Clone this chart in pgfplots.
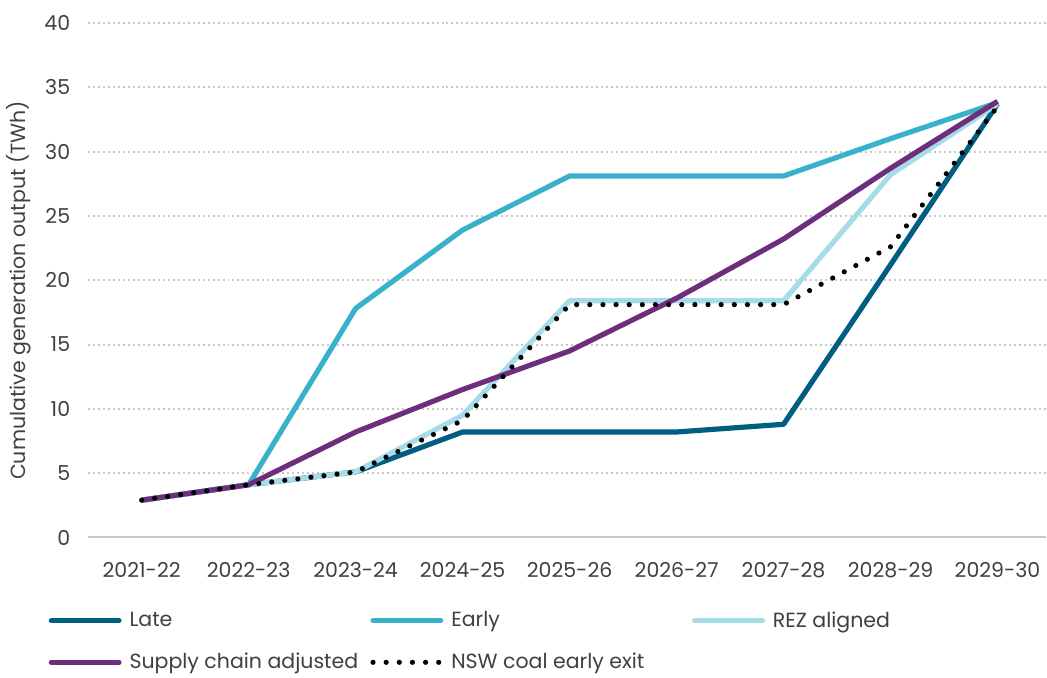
\documentclass[border=0pt]{standalone}
\usepackage{fontspec}
\setmainfont{Poppins}
\usepackage{pgfplots}
\pgfplotsset{compat=1.18}

\definecolor{late}{HTML}{005E82}
\definecolor{early}{HTML}{38B2CB}
\definecolor{rez}{HTML}{A5DCE7}
\definecolor{supply}{HTML}{6D2E7D}
\definecolor{txt}{HTML}{404040}
\definecolor{gridc}{HTML}{C8C8C8}

\newcommand{\lt}[1]{\hspace{4pt}\makebox[121pt][l]{#1}}

\begin{document}
\begin{tikzpicture}
\begin{axis}[
    name=ax,
    scale only axis,
    width=481pt, height=258.5pt,
    xmin=-0.5, xmax=8.45,
    ymin=0, ymax=40,
    xtick={0,...,8},
    xticklabels={2021-22,2022-23,2023-24,2024-25,2025-26,2026-27,2027-28,2028-29,2029-30},
    ytick={0,5,...,40},
    major tick length=0pt,
    axis x line*=bottom,
    axis y line*=left,
    x axis line style={gridc, line width=1pt, -},
    y axis line style={draw=none},
    ymajorgrids=true,
    grid style={gridc, line width=1pt, dash pattern=on 1pt off 1.5pt},
    font=\fontsize{10.3}{12}\selectfont\color{txt},
    /pgf/number format/assume math mode=true,
    xticklabel style={yshift=-9pt},
    yticklabel style={xshift=-5.5pt},
    ylabel={Cumulative generation output (TWh)},
    ylabel style={at={(axis description cs:-0.052,0.48)}, anchor=south},
    legend columns=3,
    legend cell align=left,
    legend style={draw=none, inner xsep=0pt, inner ysep=3pt, nodes={inner sep=0pt},
        at={(axis description cs:0,0)}, anchor=north west,
        xshift=-20pt, yshift=-34pt, row sep=11.5pt, column sep=0pt},
    legend image code/.code={\draw[#1, line cap=round] (0pt,0pt) -- (34pt,0pt);},
    every axis plot/.append style={line width=2.6pt, line join=round},
]
\addplot[late] coordinates {
    (0,2.9) (1,4.1) (2,5.1) (3,8.2) (4,8.2) (5,8.2) (6,8.8) (7,21.2) (8,33.7)
};
\addlegendentry{\lt{Late}}
\addplot[early] coordinates {
    (0,2.9) (1,4.1) (2,17.8) (3,23.9) (4,28.1) (5,28.1) (6,28.1) (7,31.0) (8,33.8)
};
\addlegendentry{\lt{Early}}
\addplot[rez] coordinates {
    (0,2.9) (1,4.1) (2,5.1) (3,9.5) (4,18.4) (5,18.4) (6,18.4) (7,28.2) (8,33.7)
};
\addlegendentry{\lt{REZ aligned}}
\addplot[supply] coordinates {
    (0,2.9) (1,4.1) (2,8.2) (3,11.5) (4,14.5) (5,18.6) (6,23.2) (7,28.7) (8,33.9)
};
\addlegendentry{\lt{Supply chain adjusted}}
\addplot[black, line cap=round, dash pattern=on 0pt off 6.6pt] coordinates {
    (0,2.9) (1,4.1) (2,5.1) (3,9.1) (4,18.1) (5,18.1) (6,18.1) (7,22.6) (8,33.5)
};
\addlegendentry{\lt{NSW coal early exit}}
\end{axis}
\path ([yshift=11.5pt]ax.north);
\end{tikzpicture}
\end{document}
